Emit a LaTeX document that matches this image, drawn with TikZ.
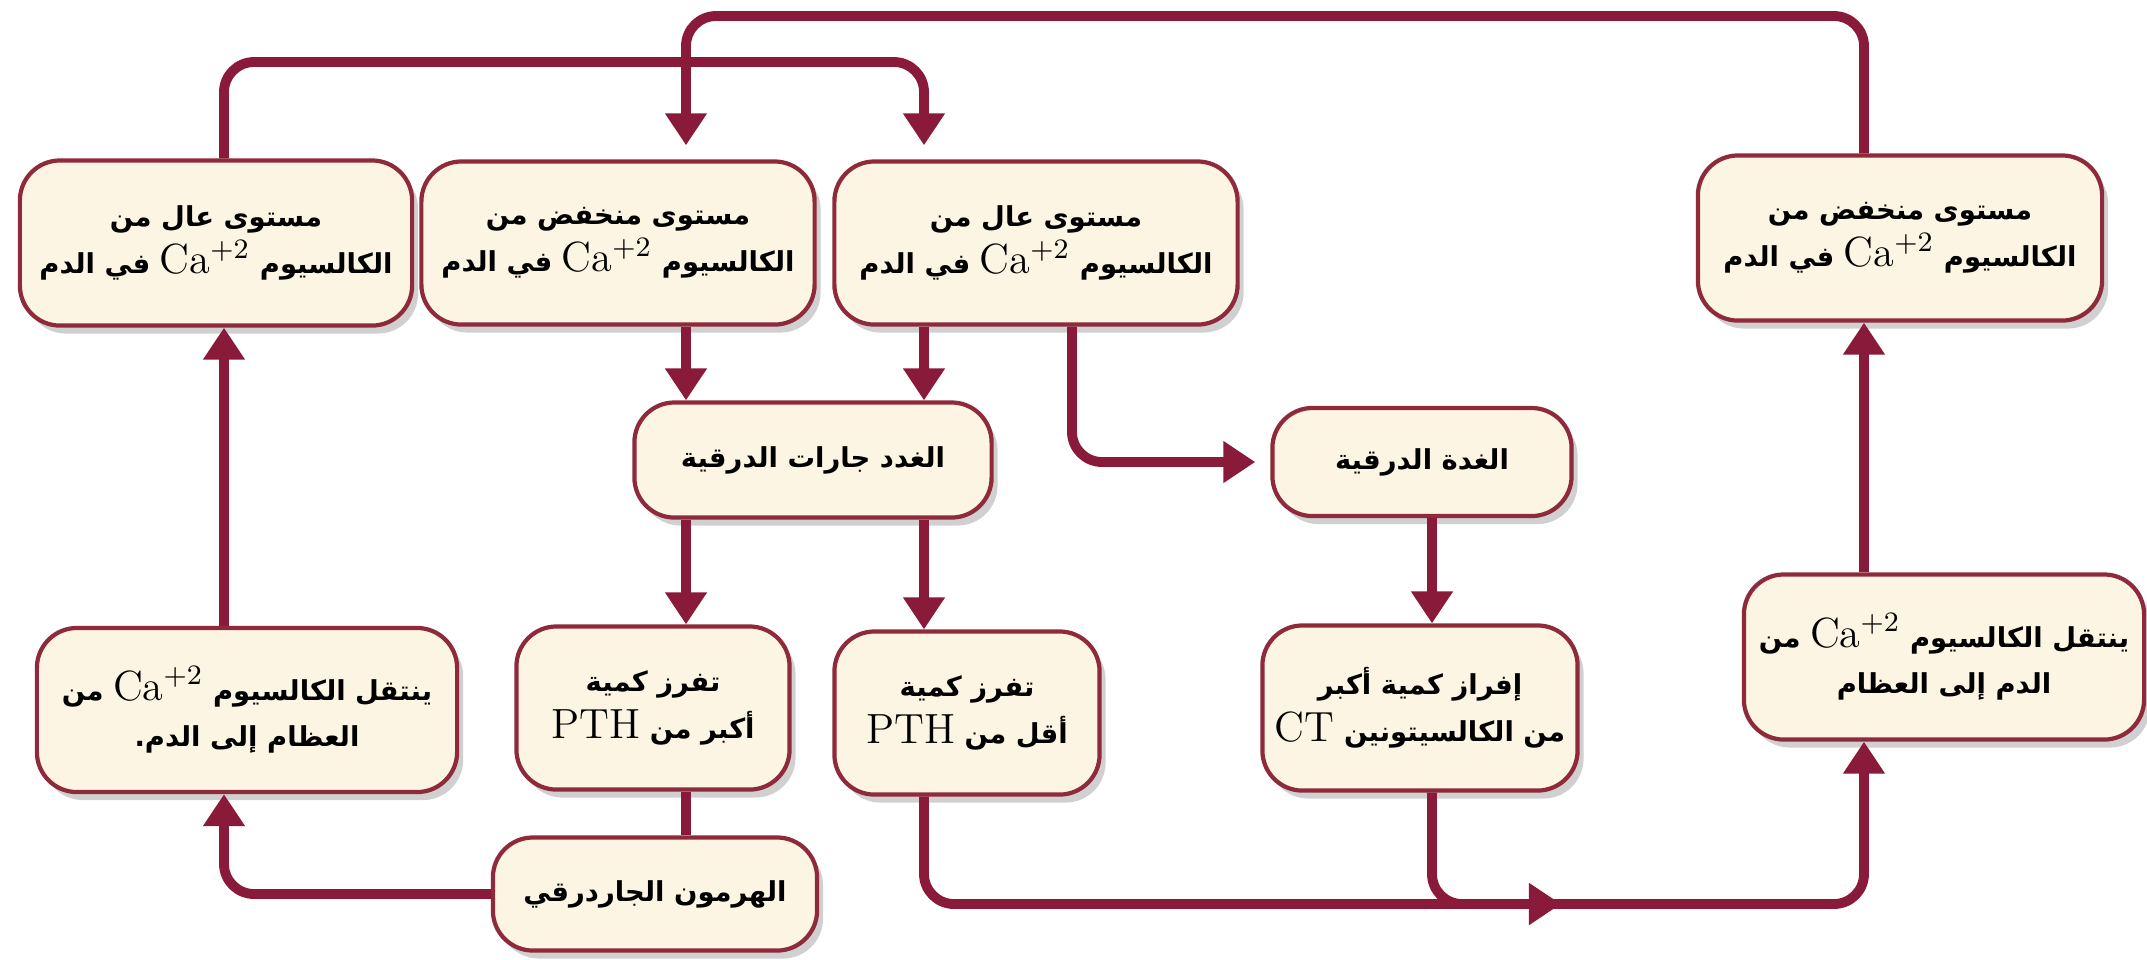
\documentclass[tikz,border=0pt]{standalone}
\usepackage{fontspec}
\usetikzlibrary{arrows.meta,shadows}
\newfontfamily\arabicfont[Script=Arabic]{DejaVu Sans}
\TeXXeTstate=1
\definecolor{bxred}{HTML}{8E2A3A}
\definecolor{bxfill}{HTML}{FDF5E4}
\definecolor{arrred}{HTML}{8A1A3A}
\newcommand{\arline}[1]{\beginR #1\endR}
\newcommand{\latn}[1]{\beginL{\normalfont\fontsize{12}{12}\selectfont #1}\endL}
\newcommand{\caion}{\latn{Ca$^{+2}$}}

\begin{document}
\begin{tikzpicture}[x=0.01cm,y=-0.01cm,
    box/.style={draw=bxred,line width=1.2pt,fill=bxfill,rounded corners=0.4cm,align=center,
      inner sep=2pt,font=\arabicfont\bfseries\fontsize{7.8}{13.3}\selectfont,
      drop shadow={shadow xshift=0.06cm,shadow yshift=-0.08cm,opacity=0.3,fill=black!60}},
    arr/.style={-{Triangle[length=0.32cm,width=0.4cm]},line width=2.8pt,draw=arrred,rounded corners=0.3cm},
    lnk/.style={line width=2.8pt,draw=arrred}]
  \fill[white] (0,0) rectangle (2147,959);
  \useasboundingbox (0,0) rectangle (2147,959);

  % top row
  \node[box,minimum width=3.92cm,minimum height=1.65cm] (highL) at (216,243)
    {\arline{مستوى عال من}\\\arline{الكالسيوم \caion{} في الدم}};
  \node[box,minimum width=3.93cm,minimum height=1.63cm] (lowM) at (618,243)
    {\arline{مستوى منخفض من}\\\arline{الكالسيوم \caion{} في الدم}};
  \node[box,minimum width=4.03cm,minimum height=1.63cm] (highM) at (1036,243)
    {\arline{مستوى عال من}\\\arline{الكالسيوم \caion{} في الدم}};
  \node[box,minimum width=4.04cm,minimum height=1.65cm] (lowR) at (1900,238)
    {\arline{مستوى منخفض من}\\\arline{الكالسيوم \caion{} في الدم}};

  % glands
  \node[box,minimum width=3.57cm,minimum height=1.15cm] (para) at (813,460)
    {\arline{الغدد جارات الدرقية}};
  \node[box,minimum width=2.99cm,minimum height=1.08cm] (thyr) at (1422,462)
    {\arline{الغدة الدرقية}};

  % bottom row
  \node[box,minimum width=4.20cm,minimum height=1.64cm] (boneblood) at (247,710)
    {\arline{ينتقل الكالسيوم \caion{} من}\\\arline{العظام إلى الدم.}};
  \node[box,minimum width=2.73cm,minimum height=1.63cm] (morePTH) at (653,708)
    {\arline{تفرز كمية}\\\arline{أكبر من \latn{PTH}}};
  \node[box,minimum width=2.65cm,minimum height=1.63cm] (lessPTH) at (967,713)
    {\arline{تفرز كمية}\\\arline{أقل من \latn{PTH}}};
  \node[box,minimum width=3.15cm,minimum height=1.65cm] (moreCT) at (1420,708)
    {\arline{إفراز كمية أكبر}\\\arline{من الكالسيتونين \latn{CT}}};
  \node[box,minimum width=4.00cm,minimum height=1.65cm] (bloodbone) at (1944,657)
    {\arline{ينتقل الكالسيوم \caion{} من}\\\arline{الدم إلى العظام}};
  \node[box,minimum width=3.24cm,minimum height=1.13cm] (hormone) at (655,894)
    {\arline{الهرمون الجاردرقي}};

  % lanes of the connectors
  \coordinate (xf) at (224,0);
  \coordinate (xa) at (686,0);
  \coordinate (xb) at (924,0);
  \coordinate (xc) at (1072,0);
  \coordinate (xd) at (1432,0);
  \coordinate (xe) at (1864,0);
  \coordinate (ya) at (0,62);
  \coordinate (yc) at (0,16);
  \coordinate (yb) at (0,904);
  \coordinate (mid) at (1561,904);

  \draw[arr,shorten >=4pt] (highL.north -| xf) -- (xf |- ya) -| (highM.north -| xb);
  \draw[arr,shorten >=4pt] (lowR.north -| xe) -- (xe |- yc) -| (lowM.north -| xa);
  \draw[arr] (lowM.south -| xa) -- (para.north -| xa);
  \draw[arr] (highM.south -| xb) -- (para.north -| xb);
  \draw[arr,shorten >=0.15cm] (highM.south -| xc) |- (thyr.west);
  \draw[arr] (para.south -| xa) -- (morePTH.north -| xa);
  \draw[arr] (para.south -| xb) -- (lessPTH.north -| xb);
  \draw[arr] (thyr.south -| xd) -- (moreCT.north -| xd);
  \draw[lnk] (morePTH.south -| xa) -- (hormone.north -| xa);
  \draw[arr] (hormone.west) -| (boneblood.south -| xf);
  \draw[arr] (boneblood.north -| xf) -- (highL.south -| xf);
  \draw[arr] (lessPTH.south -| xb) -- (xb |- yb) -- (xe |- yb) -- (bloodbone.south -| xe);
  \draw[arr] (moreCT.south -| xd) |- (mid);
  \draw[arr] (bloodbone.north -| xe) -- (lowR.south -| xe);
\end{tikzpicture}
\end{document}
